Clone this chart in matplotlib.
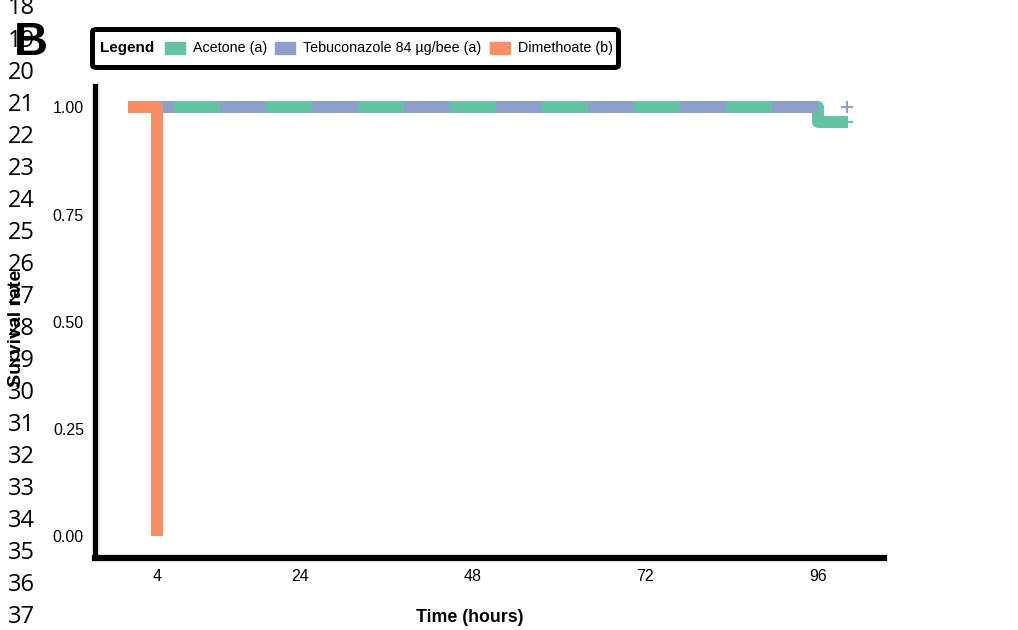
import matplotlib.pyplot as plt
from matplotlib.patches import FancyBboxPatch, Rectangle

# survival curves (step functions, Kaplan-Meier style)
acetone_t = [0, 96, 100]
acetone_s = [1.0, 0.967, 0.967]
tebu_t = [0, 100]
tebu_s = [1.0, 1.0]
dime_t = [0, 4]
dime_s = [1.0, 0.0]

# censored points at end of follow-up
censor_t = [100, 100]
censor_s = [0.967, 1.0]

labels = ['Acetone (a)', 'Tebuconazole 84 µg/bee (a)', 'Dimethoate (b)']
colors = ['#66C2A5', '#8DA0CB', '#F78E65']
xticks = [4, 24, 48, 72, 96]
yticks = [0.0, 0.25, 0.5, 0.75, 1.0]
line_numbers = list(range(18, 38))

W, H = 1018, 630
fig = plt.figure(figsize=(W / 100, H / 100), dpi=100)
ax = fig.add_axes([95 / W, 1 - 557.5 / H, (884 - 95) / W, (557.5 - 86) / H])

lw = 8.6
# censor marks go under the lines
ax.plot(censor_t[0], censor_s[0], marker='+', ms=9, mew=1.5, color=colors[0], zorder=1, ls='none')
ax.step(acetone_t, acetone_s, where='post', color=colors[0], lw=lw,
        solid_joinstyle='round', solid_capstyle='butt', zorder=2)
dash = 46 * 0.72 / lw
ax.step(tebu_t, tebu_s, where='post', color=colors[1], lw=lw, dashes=(dash, dash),
        dash_capstyle='butt', zorder=3)
ax.plot(censor_t[1], censor_s[1], marker='+', ms=9, mew=1.5, color=colors[1], zorder=3, ls='none')
ax.step(dime_t, dime_s, where='post', color=colors[2], lw=lw,
        solid_joinstyle='round', solid_capstyle='butt', zorder=4)

ax.set_xlim(-4.6, 105.2)
ax.set_ylim(-0.05, 1.05)
ax.set_xticks(xticks)
ax.set_xticklabels([str(t) for t in xticks], fontsize=11.5, family='Liberation Sans')
ax.set_yticks(yticks)
ax.set_yticklabels(['%.2f' % v for v in yticks], fontsize=11.5, family='Liberation Sans')
ax.tick_params(length=0)
ax.tick_params(axis='x', pad=8)
ax.tick_params(axis='y', pad=8)
for s in ['top', 'right']:
    ax.spines[s].set_visible(False)
ax.spines['left'].set_linewidth(3.8)
ax.spines['bottom'].set_linewidth(4.5)
ax.spines['bottom'].set_capstyle('projecting')
ax.spines['left'].set_capstyle('projecting')

fig.text(470 / W, 1 - 617 / H, 'Time (hours)', ha='center', va='center',
         fontsize=12.8, fontweight='bold', family='Liberation Sans')
fig.text(17 / W, 1 - 328 / H, 'Survival rate', ha='center', va='center', rotation=90,
         fontsize=14, fontweight='bold', family='Liberation Sans')

# panel letter
fig.text(14 / W, 1 - 43 / H, 'B', ha='left', va='center', fontsize=34,
         fontweight='bold', family='Liberation Sans')

# legend box
box = FancyBboxPatch((92.5 / W, 1 - 67.5 / H), 526 / W, 38 / H,
                     boxstyle='round,pad=0,rounding_size=0.004', transform=fig.transFigure,
                     fill=False, lw=3.6, ec='black')
fig.patches.append(box)
fig.text(100 / W, 1 - 48 / H, 'Legend', ha='left', va='center', fontsize=11,
         fontweight='bold', family='Liberation Sans')
sw_x = [165, 275, 490]
tx_x = [193, 303, 518]
for c, lab, sx, tx in zip(colors, labels, sw_x, tx_x):
    fig.patches.append(Rectangle((sx / W, 1 - 54 / H), 20 / W, 12 / H,
                                 transform=fig.transFigure, color=c))
    fig.text(tx / W, 1 - 48 / H, lab, ha='left', va='center', fontsize=10.3,
             family='Liberation Sans')

# line numbers from the manuscript page
for i, n in enumerate(line_numbers):
    fig.text(8 / W, 1 - (8.5 + i * 32.05) / H, str(n), ha='left', va='center',
             fontsize=17, family='Open Sans')

fig.savefig('out.png', dpi=100)
